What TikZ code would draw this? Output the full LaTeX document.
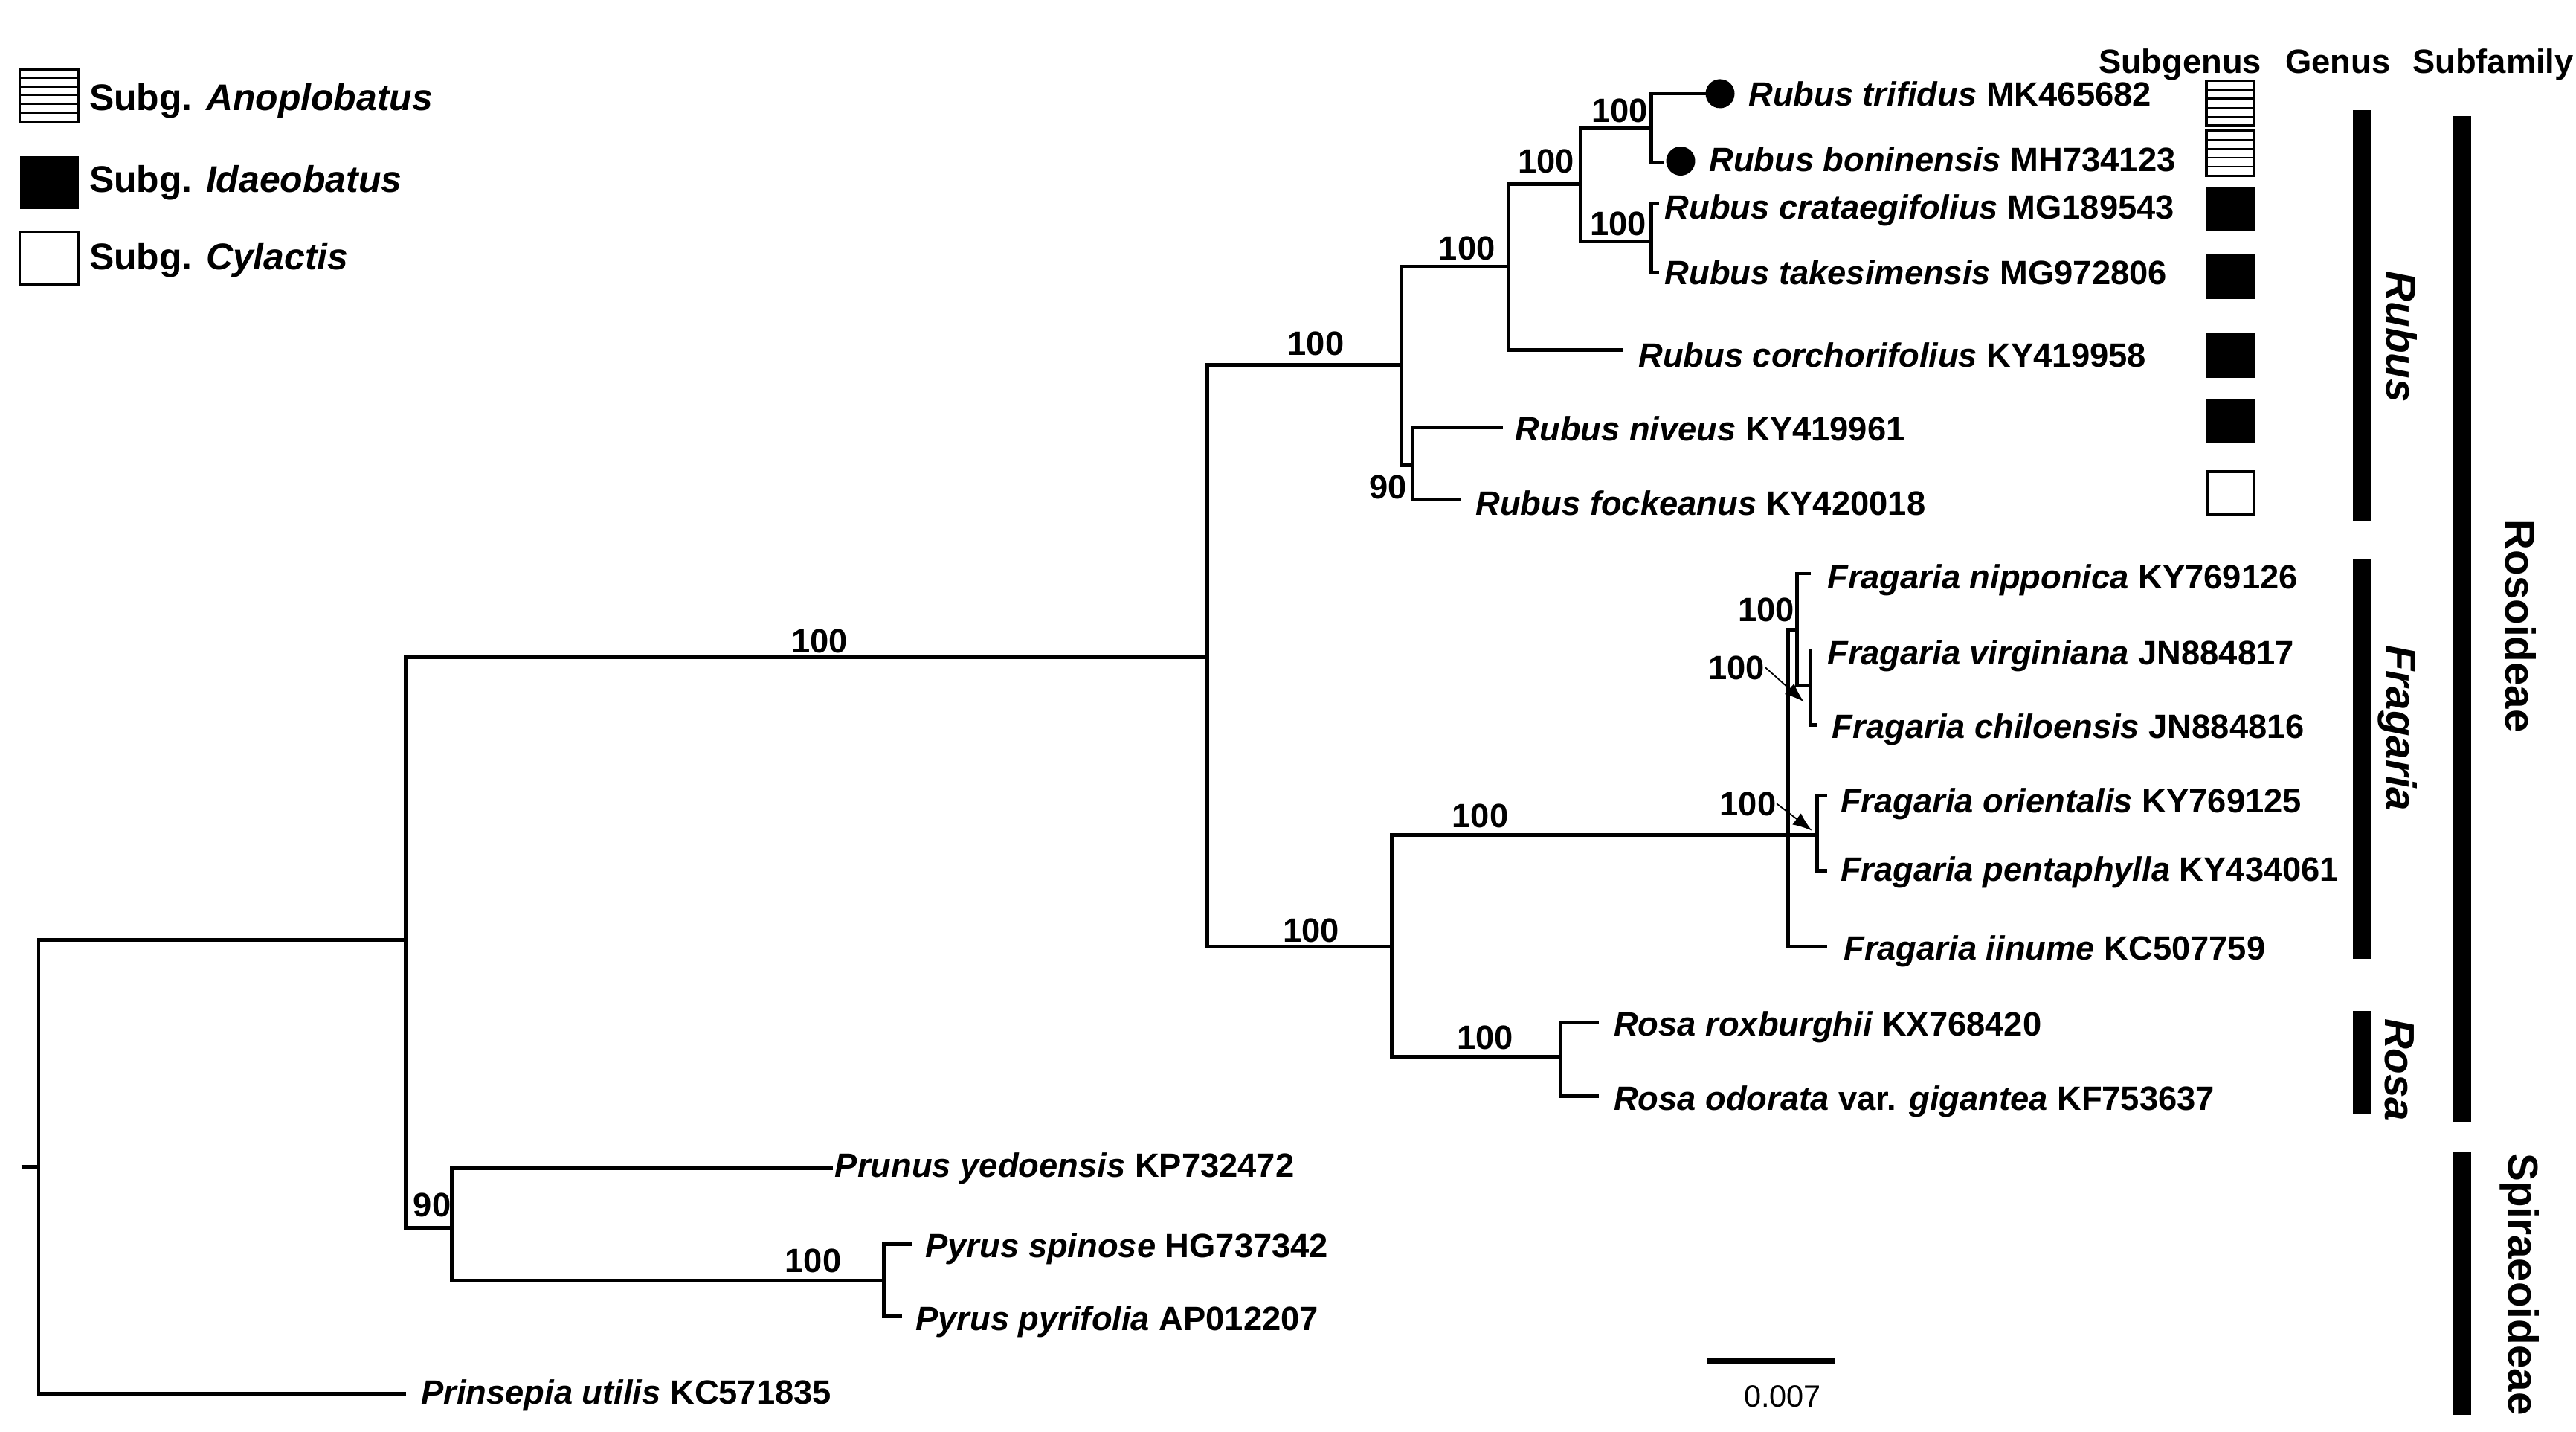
\documentclass[tikz,border=0pt]{standalone}
\usepackage{fontspec}
\setmainfont{Liberation Sans}[BoldFont={Liberation Sans Bold}, ItalicFont={Liberation Sans Italic}, BoldItalicFont={Liberation Sans Bold Italic}]
\usetikzlibrary{arrows.meta}
\newcommand\myhatch[5]{%
  \draw[line width=0.035cm] (#1,#2) rectangle (#3,#4);
  \foreach \k in {1,...,#5}{\draw[line width=0.024cm] (#1,{#2+\k*(#4-#2)/(#5+1)}) -- (#3,{#2+\k*(#4-#2)/(#5+1)});}%
}
\begin{document}
\begin{tikzpicture}[x=0.02209cm,y=-0.02209cm,
  br/.style={line width=0.048cm, line join=miter},
  tax/.style={anchor=west, inner sep=0pt, text height=9.25pt, text depth=0pt, font=\fontsize{12.9}{14}\selectfont\bfseries},
  bs/.style={anchor=center, inner sep=0pt, text height=9.25pt, text depth=0pt, font=\fontsize{12.9}{14}\selectfont\bfseries},
  leg/.style={anchor=west, inner sep=0pt, text height=10.2pt, text depth=0pt, font=\fontsize{14.2}{16}\selectfont\bfseries},
  rot/.style={anchor=base, rotate=-90, inner sep=0pt, font=\fontsize{16.1}{18}\selectfont\bfseries},
  arr/.style={line width=0.018cm, -{Latex[length=0.26cm,width=0.19cm]}},
  dot/.style={circle, fill=black, inner sep=0pt, minimum size=0.39cm},
  bar/.style={fill=black},
  sbox/.style={line width=0.035cm}]
\useasboundingbox (0,0) rectangle (1568,871);

% ---------------- tree coordinates ----------------
\coordinate (rt) at (13,710);
\coordinate (r) at (23.5,710);
\coordinate (A) at (247,572);
\coordinate (B) at (735,400);
\coordinate (C) at (275,747);
\coordinate (D) at (538,779);
\coordinate (E) at (853,222);
\coordinate (G) at (847,576);
\coordinate (H) at (918,162);
\coordinate (I) at (860,283);
\coordinate (J) at (962,112);
\coordinate (K) at (1005,78);
\coordinate (L) at (1005,147);
\coordinate (F) at (1088.5,508);
\coordinate (R) at (950,643);
\coordinate (N) at (1094,383);
\coordinate (VC) at (1102,417);
\coordinate (OP) at (1106,508);
% tips
\coordinate (t1) at (1039,57);
\coordinate (t2) at (1013,99);
\coordinate (t3) at (1010,124);
\coordinate (t4) at (1010,166);
\coordinate (t5) at (988,213);
\coordinate (t6) at (915,260);
\coordinate (t7) at (889,304);
\coordinate (t8) at (1102,349);
\coordinate (t9) at (1102,395);
\coordinate (t10) at (1106,441);
\coordinate (t11) at (1112,484);
\coordinate (t12) at (1112,530);
\coordinate (t13) at (1112,576);
\coordinate (t14) at (973,622);
\coordinate (t15) at (973,667);
\coordinate (t16) at (507,711);
\coordinate (t17) at (555,757);
\coordinate (t18) at (549,801);
\coordinate (t19) at (247,848);

% ---------------- branches ----------------
\draw[br] (rt) -- (r);
\draw[br] (r) |- (A);
\draw[br] (r) |- (t19);
\draw[br] (A) |- (B);
\draw[br] (A) |- (C);
\draw[br] (C) |- (t16);
\draw[br] (C) |- (D);
\draw[br] (D) |- (t17);
\draw[br] (D) |- (t18);
\draw[br] (B) |- (E);
\draw[br] (B) |- (G);
\draw[br] (E) |- (H);
\draw[br] (E) |- (I);
\draw[br] (I) |- (t6);
\draw[br] (I) |- (t7);
\draw[br] (H) |- (J);
\draw[br] (H) |- (t5);
\draw[br] (J) |- (K);
\draw[br] (J) |- (L);
\draw[br] (K) |- (t1);
\draw[br] (K) |- (t2);
\draw[br] (L) |- (t3);
\draw[br] (L) |- (t4);
\draw[br] (G) |- (F);
\draw[br] (G) |- (R);
\draw[br] (F) |- (N);
\draw[br] (F) -- (OP);
\draw[br] (F) |- (t13);
\draw[br] (N) |- (t8);
\draw[br] (N) |- (VC);
\draw[br] (VC) |- (t9);
\draw[br] (VC) |- (t10);
\draw[br] (OP) |- (t11);
\draw[br] (OP) |- (t12);
\draw[br] (R) |- (t14);
\draw[br] (R) |- (t15);

% dots
\node[dot] (d1) at (1047,57) {};
\node[dot] (d2) at (1023,98) {};

% ---------------- taxon labels ----------------
\node[tax] (l1) at (1064,57) {\textit{Rubus trifidus} MK465682};
\node[tax] (l2) at (1040,97) {\textit{Rubus boninensis} MH734123};
\node[tax] (l3) at (1013,126) {\textit{Rubus crataegifolius} MG189543};
\node[tax] (l4) at (1013,166) {\textit{Rubus takesimensis} MG972806};
\node[tax] (l5) at (997,216) {\textit{Rubus corchorifolius} KY419958};
\node[tax] (l6) at (922,261) {\textit{Rubus niveus} KY419961};
\node[tax] (l7) at (898,306) {\textit{Rubus fockeanus} KY420018};
\node[tax] (l8) at (1112,351) {\textit{Fragaria nipponica} KY769126};
\node[tax] (l9) at (1112,397) {\textit{Fragaria virginiana} JN884817};
\node[tax] (l10) at (1115,442) {\textit{Fragaria chiloensis} JN884816};
\node[tax] (l11) at (1120,487) {\textit{Fragaria orientalis} KY769125};
\node[tax] (l12) at (1120,529) {\textit{Fragaria pentaphylla} KY434061};
\node[tax] (l13) at (1122,577) {\textit{Fragaria iinume} KC507759};
\node[tax] (l14) at (982,623) {\textit{Rosa roxburghii} KX768420};
\node[tax] (l15) at (982,668) {\textit{Rosa odorata} var. \textit{gigantea} KF753637};
\node[tax] (l16) at (508,709) {\textit{Prunus yedoensis} KP732472};
\node[tax] (l17) at (563,758) {\textit{Pyrus spinose} HG737342};
\node[tax] (l18) at (557,802) {\textit{Pyrus pyrifolia} AP012207};
\node[tax] (l19) at (256,847) {\textit{Prinsepia utilis} KC571835};

% ---------------- bootstrap values ----------------
\node[bs] (b1) at (499,390) {100};
\node[bs] (b2) at (263,733) {90};
\node[bs] (b3) at (495,767) {100};
\node[bs] (b4) at (801,209) {100};
\node[bs] (b5) at (798,566) {100};
\node[bs] (b6) at (893,151) {100};
\node[bs] (b7) at (845,296) {90};
\node[bs] (b8) at (941,98) {100};
\node[bs] (b9) at (986,67) {100};
\node[bs] (b10) at (985,136) {100};
\node[bs] (b11) at (901,496) {100};
\node[bs] (b12) at (904,631) {100};
\node[bs] (b13) at (1075,371) {100};
\node[bs] (b14) at (1057,406) {100};
\node[bs] (b15) at (1064,489) {100};
\coordinate (a14) at (1098,427);
\coordinate (a15) at (1103,505.5);
\draw[arr] (b14.east) -- (a14);
\draw[arr] (b15.east) -- (a15);

% ---------------- legend ----------------
\myhatch{12}{42}{48}{74}{5}
\fill (12,95) rectangle (48,127);
\draw[sbox] (12,141) rectangle (48,173);
\node[leg] (g1) at (54,59) {Subg. \textit{Anoplobatus}};
\node[leg] (g2) at (54,109) {Subg. \textit{Idaeobatus}};
\node[leg] (g3) at (54,156) {Subg. \textit{Cylactis}};

% ---------------- headers ----------------
\node[bs] (h1) at (1327,37) {Subgenus};
\node[bs] (h2) at (1423,37) {Genus};
\node[bs] (h3) at (1517.5,37) {Subfamily};

% ---------------- subgenus boxes ----------------
\myhatch{1343}{49}{1372}{76.5}{4}
\myhatch{1343}{79.5}{1372}{107}{4}
\fill (1343,114) rectangle (1373,140.5);
\fill (1343,154.5) rectangle (1373,182);
\fill (1343,202.5) rectangle (1373,230);
\fill (1343,243) rectangle (1373,270);
\draw[sbox] (1343.5,287) rectangle (1372,313);

% ---------------- genus bars ----------------
\fill[bar] (1432,67) rectangle (1443,317);
\fill[bar] (1432,340) rectangle (1443,583.5);
\fill[bar] (1432,615) rectangle (1443,678);
\node[rot] (gn1) at (1453,205) {\textit{Rubus}};
\node[rot] (gn2) at (1453,443) {\textit{Fragaria}};
\node[rot] (gn3) at (1452,651) {\textit{Rosa}};

% ---------------- subfamily bars ----------------
\fill[bar] (1493,70.5) rectangle (1504,682.5);
\fill[bar] (1493,701) rectangle (1504,861);
\node[rot] (sf1) at (1525,381) {Rosoideae};
\node[rot] (sf2) at (1527,781.5) {Spiraeoideae};

% ---------------- scale bar ----------------
\coordinate (s1) at (1039,828.4);
\coordinate (s2) at (1117,828.4);
\draw[line width=0.08cm] (s1) -- (s2);
\node[anchor=center, inner sep=0pt, text height=8.4pt, text depth=0pt, font=\fontsize{11.8}{13}\selectfont] (sl) at (1085,849.6) {0.007};
\end{tikzpicture}
\end{document}
